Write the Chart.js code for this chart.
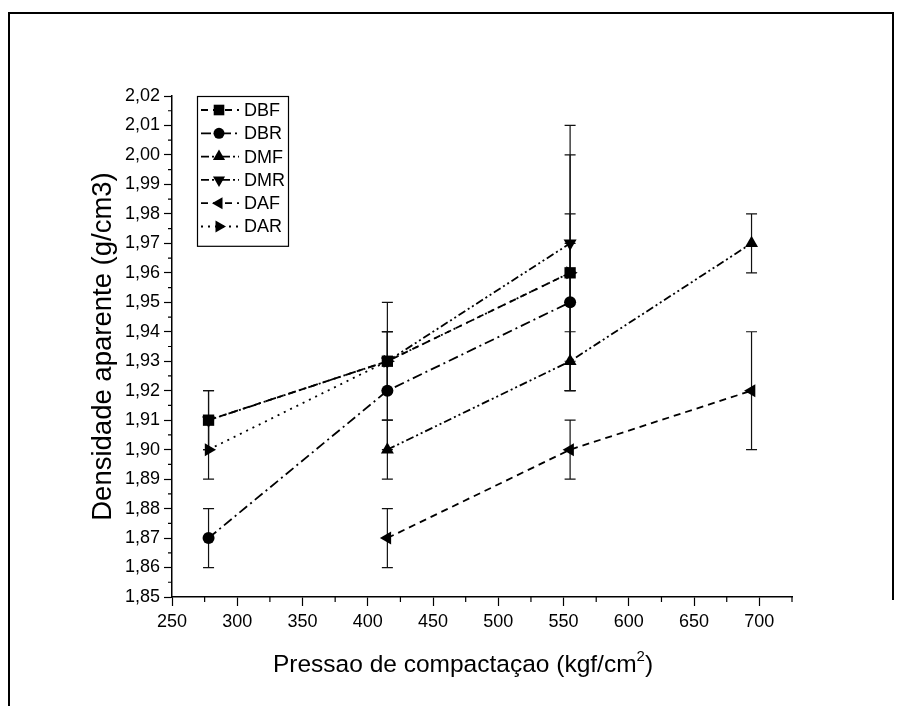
<!DOCTYPE html>
<html>
<head>
<meta charset="utf-8">
<title>Densidade aparente</title>
<script src="https://cdn.jsdelivr.net/npm/chart.js@4.4.1/dist/chart.umd.min.js"></script>
<style>
  html, body { margin: 0; padding: 0; background: #fff; }
  #wrap  { position: relative; width: 904px; height: 706px; overflow: hidden; }
  #frame { position: absolute; left: 8px; top: 12px; width: 886px; height: 720px;
           border: 2px solid #000; border-right: none; box-sizing: border-box; }
  #frame-r { position: absolute; left: 892px; top: 12px; width: 2px; height: 588px; background: #000; }
  #chart { position: absolute; left: 0; top: 0; }
</style>
</head>
<body>
<div id="wrap">
  <div id="frame"></div>
  <div id="frame-r"></div>
  <canvas id="chart" width="904" height="706"></canvas>
</div>
<script>
/* ── Data ── */
const pressao = [278, 415, 555, 694];
const xTicks  = [250, 300, 350, 400, 450, 500, 550, 600, 650, 700];
const yTicks  = [1.85, 1.86, 1.87, 1.88, 1.89, 1.90, 1.91, 1.92, 1.93,
                 1.94, 1.95, 1.96, 1.97, 1.98, 1.99, 2.00, 2.01, 2.02];

const dbf    = [1.91, 1.93, 1.96, null];
const dbfErr = [0.01, 0.02, 0.04, null];
const dbr    = [1.87, 1.92, 1.95, null];
const dbrErr = [0.01, 0.02, 0.03, null];
const dmf    = [null, 1.90, 1.93, 1.97];
const dmfErr = [null, 0.01, 0.01, 0.01];
const dmr    = [1.91, 1.93, 1.97, null];
const dmrErr = [0.01, 0.01, 0.04, null];
const daf    = [null, 1.87, 1.90, 1.92];
const dafErr = [null, 0.01, 0.01, 0.02];
const dar    = [1.90, 1.93, 1.96, null];
const darErr = [0.01, 0.01, 0.01, null];

const FONT = '"Liberation Sans", Arial, sans-serif';

function pts(vals, errs) {
  return pressao.map((x, i) => ({ x, y: vals[i], e: errs[i] })).filter(p => p.y != null);
}

function series(label, vals, errs, style, rot, radius, dash) {
  return {
    label,
    data: pts(vals, errs),
    borderColor: '#000',
    backgroundColor: '#000',
    borderWidth: 1.8,
    borderDash: dash,
    pointStyle: style,
    rotation: rot,
    pointRadius: radius,
    pointHoverRadius: radius,
    pointBorderWidth: 0,
    tension: 0,
    fill: false,
  };
}

const DASH     = [7, 5];
const DASHDOT  = [10, 4, 2, 4];
const DASHDD   = [8, 3, 2, 3, 2, 3];
const DOT      = [2, 5];

/* ── Plugins ── */
const errorBars = {
  id: 'errorBars',
  beforeDatasetsDraw(chart) {
    const { ctx, scales: { x, y } } = chart;
    ctx.save();
    ctx.strokeStyle = '#111';
    ctx.lineWidth = 1.2;
    ctx.setLineDash([]);
    chart.data.datasets.forEach(ds => {
      ds.data.forEach(p => {
        if (p.e == null) return;
        const px  = x.getPixelForValue(p.x);
        const top = y.getPixelForValue(p.y + p.e);
        const bot = y.getPixelForValue(p.y - p.e);
        ctx.beginPath();
        ctx.moveTo(px, top); ctx.lineTo(px, bot);
        ctx.moveTo(px - 5.5, top); ctx.lineTo(px + 5.5, top);
        ctx.moveTo(px - 5.5, bot); ctx.lineTo(px + 5.5, bot);
        ctx.stroke();
      });
    });
    ctx.restore();
  }
};

const minorTicks = {
  id: 'minorTicks',
  afterDraw(chart) {
    const { ctx, scales: { x, y } } = chart;
    ctx.save();
    ctx.strokeStyle = '#000';
    ctx.lineWidth = 1.2;
    ctx.beginPath();
    for (let v = 275; v <= 725; v += 50) {
      const px = x.getPixelForValue(v);
      ctx.moveTo(px, y.bottom); ctx.lineTo(px, y.bottom + 5);
    }
    for (let i = 0; i < yTicks.length - 1; i++) {
      const py = y.getPixelForValue((yTicks[i] + yTicks[i + 1]) / 2);
      ctx.moveTo(x.left, py); ctx.lineTo(x.left - 4, py);
    }
    ctx.stroke();
    ctx.restore();
  }
};

const xTitle = {
  id: 'xTitle',
  afterDraw(chart) {
    const ctx = chart.ctx;
    const main = 'Pressao de compactaçao (kgf/cm';
    const big = '24.5px ' + FONT, small = '15px ' + FONT;
    ctx.save();
    ctx.fillStyle = '#000';
    ctx.textBaseline = 'alphabetic';
    ctx.font = big;
    const w1 = ctx.measureText(main).width;
    const w3 = ctx.measureText(')').width;
    ctx.font = small;
    const w2 = ctx.measureText('2').width;
    const x0 = 463 - (w1 + w2 + w3) / 2;
    const base = 672;
    ctx.font = big;
    ctx.fillText(main, x0, base);
    ctx.fillText(')', x0 + w1 + w2, base);
    ctx.font = small;
    ctx.fillText('2', x0 + w1, base - 11);
    ctx.restore();
  }
};

const boxLegend = {
  id: 'boxLegend',
  afterDraw(chart) {
    const ctx = chart.ctx;
    const left = 197, top = chart.chartArea.top, right = 288, rowH = 23.3;
    const bottom = top + 10 + rowH * chart.data.datasets.length;
    ctx.save();
    ctx.strokeStyle = '#000';
    ctx.lineWidth = 1.2;
    ctx.setLineDash([]);
    ctx.strokeRect(left + 0.5, top + 0.5, right - left, bottom - top);
    chart.data.datasets.forEach((ds, i) => {
      const cy = top + 14 + i * rowH;
      ctx.strokeStyle = '#000';
      ctx.lineWidth = ds.borderWidth;
      ctx.setLineDash(ds.borderDash);
      ctx.beginPath();
      ctx.moveTo(left + 4, cy); ctx.lineTo(left + 42, cy);
      ctx.stroke();
      ctx.setLineDash([]);
      ctx.fillStyle = '#000';
      Chart.helpers.drawPoint(ctx, {
        pointStyle: ds.pointStyle, rotation: ds.rotation,
        radius: ds.pointRadius - 0.5, borderWidth: 0
      }, left + 22, cy);
      ctx.font = '18px ' + FONT;
      ctx.textBaseline = 'middle';
      ctx.fillText(ds.label, left + 47, cy + 1);
    });
    ctx.restore();
  }
};

/* ── Chart ── */
new Chart(document.getElementById('chart'), {
  type: 'line',
  data: {
    datasets: [
      series('DBF', dbf, dbfErr, 'rect',     0,   8,   DASH),
      series('DBR', dbr, dbrErr, 'circle',   0,   6,   DASHDOT),
      series('DMF', dmf, dmfErr, 'triangle', 0,   7.5, DASHDD),
      series('DMR', dmr, dmrErr, 'triangle', 180, 7.5, DASHDD),
      series('DAF', daf, dafErr, 'triangle', 270, 7.5, DASH),
      series('DAR', dar, darErr, 'triangle', 90,  7.5, DOT),
    ],
  },
  options: {
    responsive: false,
    animation: false,
    events: [],
    layout: { padding: { left: 0, top: 96, right: 112, bottom: 49 } },
    plugins: { legend: { display: false }, tooltip: { enabled: false } },
    scales: {
      x: {
        type: 'linear',
        min: 250,
        max: 725,
        afterFit: s => { s.height = 60; },
        afterBuildTicks: s => { s.ticks = xTicks.map(v => ({ value: v })); },
        border: { color: '#000', width: 1.5 },
        grid: { drawOnChartArea: false, color: '#000', tickLength: 9, tickWidth: 1.2 },
        ticks: { color: '#000', autoSkip: false, maxRotation: 0, padding: 5,
                 font: { family: FONT, size: 18 } },
      },
      y: {
        min: 1.85,
        max: 2.02,
        afterFit: s => { s.width = 172; },
        afterBuildTicks: s => { s.ticks = yTicks.map(v => ({ value: v })); },
        border: { color: '#000', width: 1.5 },
        grid: { drawOnChartArea: false, color: '#000', tickLength: 8, tickWidth: 1.2 },
        ticks: { color: '#000', autoSkip: false, padding: 4,
                 font: { family: FONT, size: 18 },
                 callback: v => v.toFixed(2).replace('.', ',') },
        title: { display: true, text: 'Densidade aparente (g/cm3)', color: '#000',
                 font: { family: FONT, size: 27.5 }, padding: { top: 87, bottom: 0 } },
      },
    },
  },
  plugins: [errorBars, minorTicks, xTitle, boxLegend],
});
</script>
</body>
</html>
